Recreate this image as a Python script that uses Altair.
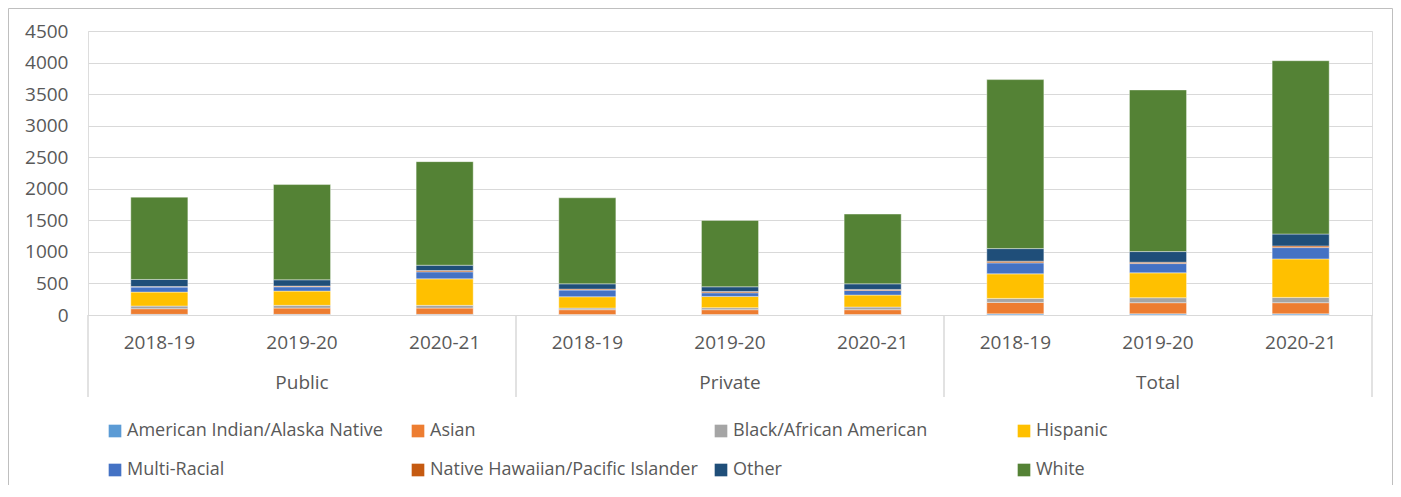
import altair as alt
import pandas as pd

groups = ["Public", "Private", "Total"]
years = ["2018-19", "2019-20", "2020-21"]
races = [
    "American Indian/Alaska Native",
    "Asian",
    "Black/African American",
    "Hispanic",
    "Multi-Racial",
    "Native Hawaiian/Pacific Islander",
    "Other",
    "White",
]
colors = ["#5B9BD5", "#ED7D31", "#A5A5A5", "#FFC000", "#4472C4", "#C55A11", "#1F4E79", "#548235"]

# values per race (in the order of `races`)
public_1819 = [10, 90, 42, 221, 79, 8, 113, 1304]
public_1920 = [10, 100, 43, 226, 68, 11, 100, 1509]
public_2021 = [10, 100, 43, 420, 111, 21, 84, 1641]
private_1819 = [8, 76, 26, 179, 106, 15, 84, 1363]
private_1920 = [8, 76, 32, 179, 57, 21, 74, 1052]
private_2021 = [8, 76, 42, 190, 73, 16, 89, 1105]
total_1819 = [18, 182, 63, 389, 174, 26, 200, 2678]
total_1920 = [18, 177, 79, 394, 147, 21, 169, 2561]
total_2021 = [18, 177, 84, 610, 179, 26, 189, 2746]

series = {
    ("Public", "2018-19"): public_1819,
    ("Public", "2019-20"): public_1920,
    ("Public", "2020-21"): public_2021,
    ("Private", "2018-19"): private_1819,
    ("Private", "2019-20"): private_1920,
    ("Private", "2020-21"): private_2021,
    ("Total", "2018-19"): total_1819,
    ("Total", "2019-20"): total_1920,
    ("Total", "2020-21"): total_2021,
}

keys = [f"{g}|{y}" for g in groups for y in years]
rows = []
for (g, y), vals in series.items():
    for i, (r, v) in enumerate(zip(races, vals)):
        rows.append({"key": f"{g}|{y}", "race": r, "value": v, "idx": i})
df = pd.DataFrame(rows)

W, H = 1284, 284
step = W / len(keys)
TXT = "#595959"
GRID = "#D9D9D9"
FONT = "Open Sans"

xscale = alt.Scale(domain=keys, paddingInner=0.6, paddingOuter=0.3)

bars = alt.Chart(df).mark_bar(stroke="white", strokeWidth=0.4).encode(
    x=alt.X(
        "key:N",
        scale=xscale,
        title=None,
        axis=alt.Axis(
            labelExpr="split(datum.label, '|')[1]",
            labelAngle=0,
            labelFontSize=19,
            labelColor=TXT,
            labelFont=FONT,
            labelBaseline="middle",
            labelPadding=27,
            ticks=False,
            domain=True,
            domainColor=GRID,
            domainWidth=1,
            grid=False,
        ),
    ),
    y=alt.Y(
        "value:Q",
        stack="zero",
        scale=alt.Scale(domain=[0, 4500], nice=False),
        title=None,
        axis=alt.Axis(
            values=list(range(0, 4501, 500)),
            format="d",
            labelFontSize=19,
            labelColor=TXT,
            labelFont=FONT,
            labelPadding=20,
            ticks=False,
            domain=False,
            gridColor=GRID,
            gridWidth=1,
        ),
    ),
    color=alt.Color(
        "race:N",
        scale=alt.Scale(domain=races, range=colors),
        sort=races,
        legend=alt.Legend(
            title=None,
            orient="none",
            legendX=18,
            legendY=391,
            columns=4,
            direction="horizontal",
            gridAlign="all",
            columnPadding=14,
            rowPadding=21,
            symbolType="square",
            symbolSize=160,
            symbolStrokeWidth=0,
            labelFontSize=18,
            labelFont=FONT,
            labelColor=TXT,
            labelOffset=3,
            labelLimit=400,
        ),
    ),
    order=alt.Order("idx:Q", sort="ascending"),
)

grp_df = pd.DataFrame({"key": [f"{g}|{years[1]}" for g in groups], "label": groups})
grp_text = alt.Chart(grp_df).mark_text(
    fontSize=19, color=TXT, font=FONT, baseline="middle"
).encode(
    x=alt.X("key:N", scale=xscale),
    y=alt.value(H + 68),
    text="label:N",
)

sep_df = pd.DataFrame({"key": [f"{g}|{years[0]}" for g in groups]})
seps = alt.Chart(sep_df).mark_rule(color=GRID, strokeWidth=1.5, xOffset=-step / 2).encode(
    x=alt.X("key:N", scale=xscale),
    y=alt.value(H),
    y2=alt.value(H + 82),
)
end_df = pd.DataFrame({"key": [keys[-1]]})
sep_end = alt.Chart(end_df).mark_rule(color=GRID, strokeWidth=1.5, xOffset=step / 2).encode(
    x=alt.X("key:N", scale=xscale),
    y=alt.value(H),
    y2=alt.value(H + 82),
)

frame = alt.Chart(pd.DataFrame({"f": [0]})).mark_rect(
    fill=None, stroke="#BFBFBF", strokeWidth=1
).encode(
    x=alt.value(-79.5), x2=alt.value(W + 20.5), y=alt.value(-22.5), y2=alt.value(H + 200)
)

chart = alt.layer(frame, bars, seps, sep_end, grp_text).properties(
    width=W,
    height=H,
    padding={"left": 80, "top": 23, "right": 21, "bottom": 170},
    autosize=alt.AutoSizeParams(type="none"),
).configure_view(stroke=None).configure(font=FONT)

chart.save("out.html", embed_options={"renderer": "svg", "actions": False})
